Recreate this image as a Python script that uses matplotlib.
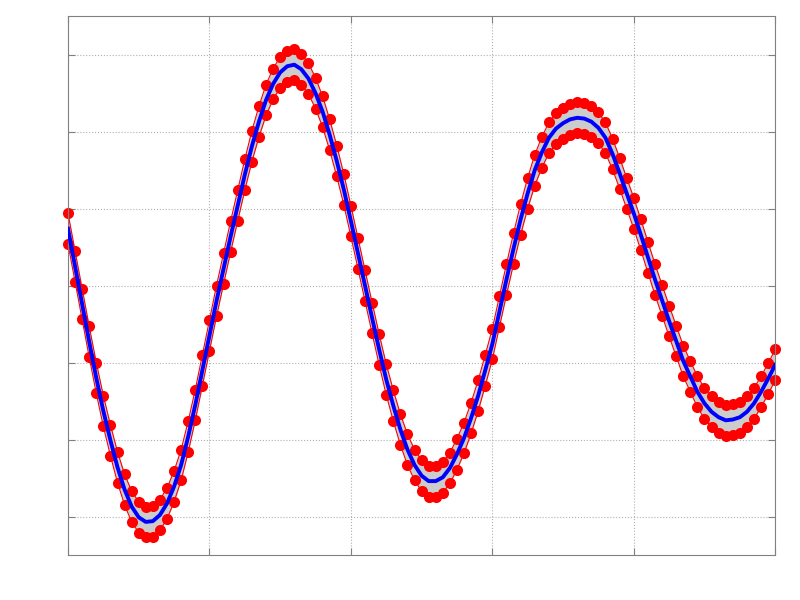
import numpy as np
import matplotlib

matplotlib.use("Agg")
import matplotlib.pyplot as plt

# sample positions (step 0.05 from 0 to 5)
x = np.linspace(0.0, 5.0, 101)

# curve values
y = [
    0.74, 0.25, -0.24, -0.73, -1.20, -1.63, -2.01, -2.36, -2.65, -2.87,
    -3.01, -3.07, -3.06, -2.98, -2.83, -2.61, -2.33, -1.96, -1.55, -1.10,
    -0.65, -0.20, 0.22, 0.64, 1.04, 1.44, 1.81, 2.13, 2.41, 2.62,
    2.77, 2.85, 2.87, 2.81, 2.69, 2.50, 2.26, 1.96, 1.62, 1.25,
    0.84, 0.42, 0.00, -0.42, -0.83, -1.22, -1.56, -1.87, -2.13, -2.33,
    -2.47, -2.54, -2.54, -2.49, -2.37, -2.19, -1.98, -1.72, -1.43, -1.10,
    -0.76, -0.34, 0.08, 0.48, 0.86, 1.20, 1.50, 1.73, 1.92, 2.04,
    2.11, 2.16, 2.18, 2.17, 2.13, 2.05, 1.92, 1.71, 1.46, 1.20,
    0.94, 0.66, 0.37, 0.08, -0.19, -0.46, -0.72, -0.98, -1.18, -1.38,
    -1.53, -1.64, -1.71, -1.75, -1.74, -1.71, -1.64, -1.53, -1.38, -1.21,
    -1.03,
]

# half width of the shaded band
err = 0.2

x_ticks = [0, 1, 2, 3, 4, 5]
y_ticks = [-3, -2, -1, 0, 1, 2, 3]

y = np.asarray(y)
upper = y + err
lower = y - err

fig = plt.figure(figsize=(8, 6), dpi=100)
ax = fig.add_axes([0.085, 0.075, 0.884, 0.898])

ax.fill_between(x, lower, upper, color="#cccccc", lw=0, zorder=1)
for band in (upper, lower):
    ax.plot(x, band, "-o", color="red", lw=0.8, ms=8, mec="none",
            zorder=2, clip_on=False)
ax.plot(x, y, color="blue", lw=2.8, zorder=3)

ax.set_xlim(0, 5)
ax.set_ylim(-3.5, 3.5)
ax.set_xticks(x_ticks)
ax.set_yticks(y_ticks)
ax.tick_params(direction="in", length=5, width=0.8, color="#808080",
               top=True, right=True,
               labelbottom=False, labelleft=False)
ax.grid(True, linestyle=":", color="#b0b0b0", lw=0.8)
ax.set_axisbelow(True)
for spine in ax.spines.values():
    spine.set_color("#808080")
    spine.set_linewidth(0.8)

fig.savefig("out.png", dpi=100)
